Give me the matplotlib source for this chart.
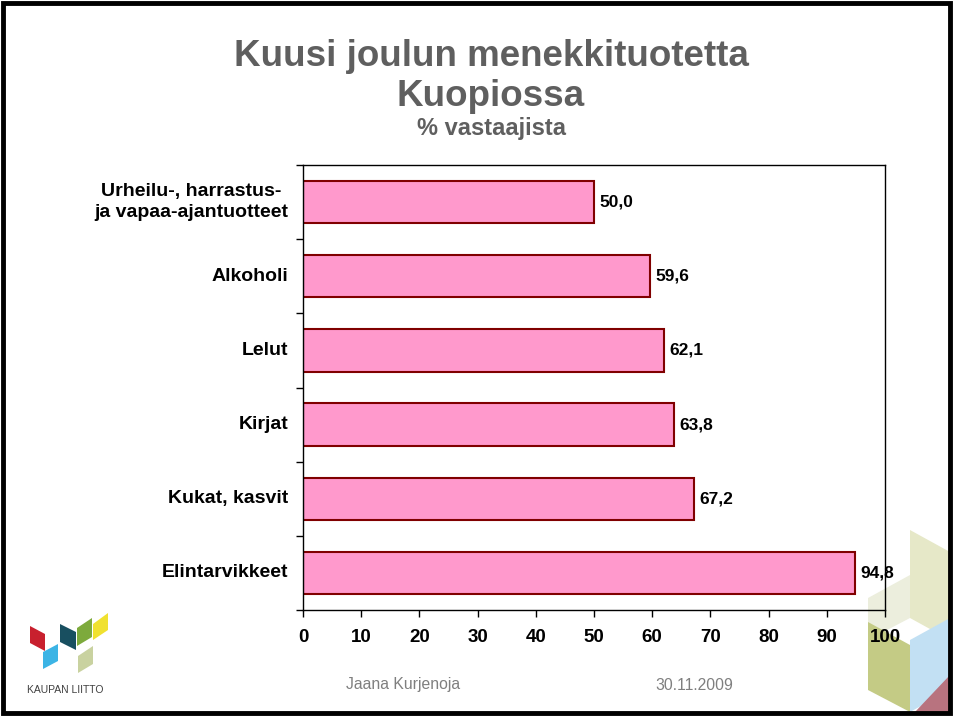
import matplotlib
matplotlib.use("Agg")
import matplotlib.pyplot as plt
from matplotlib.patches import Polygon, Rectangle

# data
kategoriat = ["Urheilu-, harrastus-\nja vapaa-ajantuotteet", "Alkoholi", "Lelut",
              "Kirjat", "Kukat, kasvit", "Elintarvikkeet"]
osuudet = [50.0, 59.6, 62.1, 63.8, 67.2, 94.8]
x_ticks = [0, 10, 20, 30, 40, 50, 60, 70, 80, 90, 100]

arial = ["Liberation Sans", "DejaVu Sans"]

W, H = 959, 721
fig = plt.figure(figsize=(W / 100, H / 100), dpi=100)


def px(x, y):
    # pixel coords (top-left origin) -> figure fraction
    return (x / W, 1 - y / H)


def poly(pts, color, alpha=1.0):
    fig.patches.append(Polygon([px(*p) for p in pts], closed=True, transform=fig.transFigure,
                               facecolor=color, edgecolor="none", alpha=alpha, zorder=-1))


# decoration bottom right
poly([(910, 530), (950, 552), (950, 640), (910, 618)], "#e6e8c8")
poly([(868, 598), (910, 575), (910, 618), (868, 640)], "#eceedd")
poly([(868, 622), (910, 645), (910, 712), (868, 690)], "#c4cb85")
poly([(910, 640), (950, 618), (950, 690), (910, 712)], "#c2e0f3")
poly([(915, 712), (950, 675), (950, 712)], "#b8737f")

# logo bottom left
poly([(30, 626), (45, 634), (45, 651), (30, 643)], "#c8202e")
poly([(43, 652), (58, 644), (58, 661), (43, 669)], "#3cb4e5")
poly([(60, 624), (76, 632), (76, 650), (60, 642)], "#184f60")
poly([(77, 628), (92, 618), (92, 637), (77, 646)], "#7daa3c")
poly([(93, 624), (108, 613), (108, 630), (93, 640)], "#f0e130")
poly([(78, 656), (93, 646), (93, 664), (78, 673)], "#c9d2a0")
fig.text(*px(65, 690), "KAUPAN LIITTO", ha="center", va="center", fontsize=7.5,
         color="#404040", family=arial)

# frame around slide
fig.patches.append(Rectangle(px(3, 713), 947 / W, 710 / H, transform=fig.transFigure,
                             fill=False, edgecolor="black", linewidth=3.5, zorder=5))

# titles
fig.text(*px(491, 56), "Kuusi joulun menekkituotetta", ha="center", va="center",
         fontsize=26.5, fontweight="bold", color="#5f5f5f", family=arial)
fig.text(*px(491, 97), "Kuopiossa", ha="center", va="center",
         fontsize=26.5, fontweight="bold", color="#5f5f5f", family=arial)
fig.text(*px(491, 129), "% vastaajista", ha="center", va="center",
         fontsize=17, fontweight="bold", color="#5f5f5f", family=arial)

# footer
fig.text(*px(403, 685), "Jaana Kurjenoja", ha="center", va="center",
         fontsize=11.3, color="#7f7f7f", family=arial)
fig.text(*px(694, 685), "30.11.2009", ha="center", va="center",
         fontsize=11.3, color="#7f7f7f", family=arial)

# chart
l, b = px(303, 610)
r, t = px(885, 165)
ax = fig.add_axes([l, b, r - l, t - b])
ax.patch.set_alpha(0)
ypos = list(range(len(kategoriat)))
ax.barh(ypos, osuudet, height=0.57, color="#ff99cc", edgecolor="#800000", linewidth=1.5)
for y, v in zip(ypos, osuudet):
    ax.text(v + 0.9, y, f"{v:.1f}".replace(".", ","), ha="left", va="center",
            fontsize=12.5, fontweight="bold", family=arial)

ax.set_xlim(0, 100)
ax.set_ylim(len(kategoriat) - 0.5, -0.5)
ax.set_xticks(x_ticks)
ax.set_xticklabels([str(v) for v in x_ticks], fontsize=13.5, fontweight="bold", family=arial)
ax.set_yticks([i + 0.5 for i in range(-1, len(kategoriat))])
ax.set_yticklabels([])
ax.tick_params(axis="both", direction="out", length=5, width=1)
ax.tick_params(axis="x", pad=9)
for y, k in zip(ypos, kategoriat):
    ax.text(-2.5, y, k, ha="right", va="center", fontsize=14, fontweight="bold",
            family=arial, multialignment="center", linespacing=1.3)
for s in ax.spines.values():
    s.set_linewidth(1)
    s.set_color("black")

fig.savefig("out.png", dpi=100)
